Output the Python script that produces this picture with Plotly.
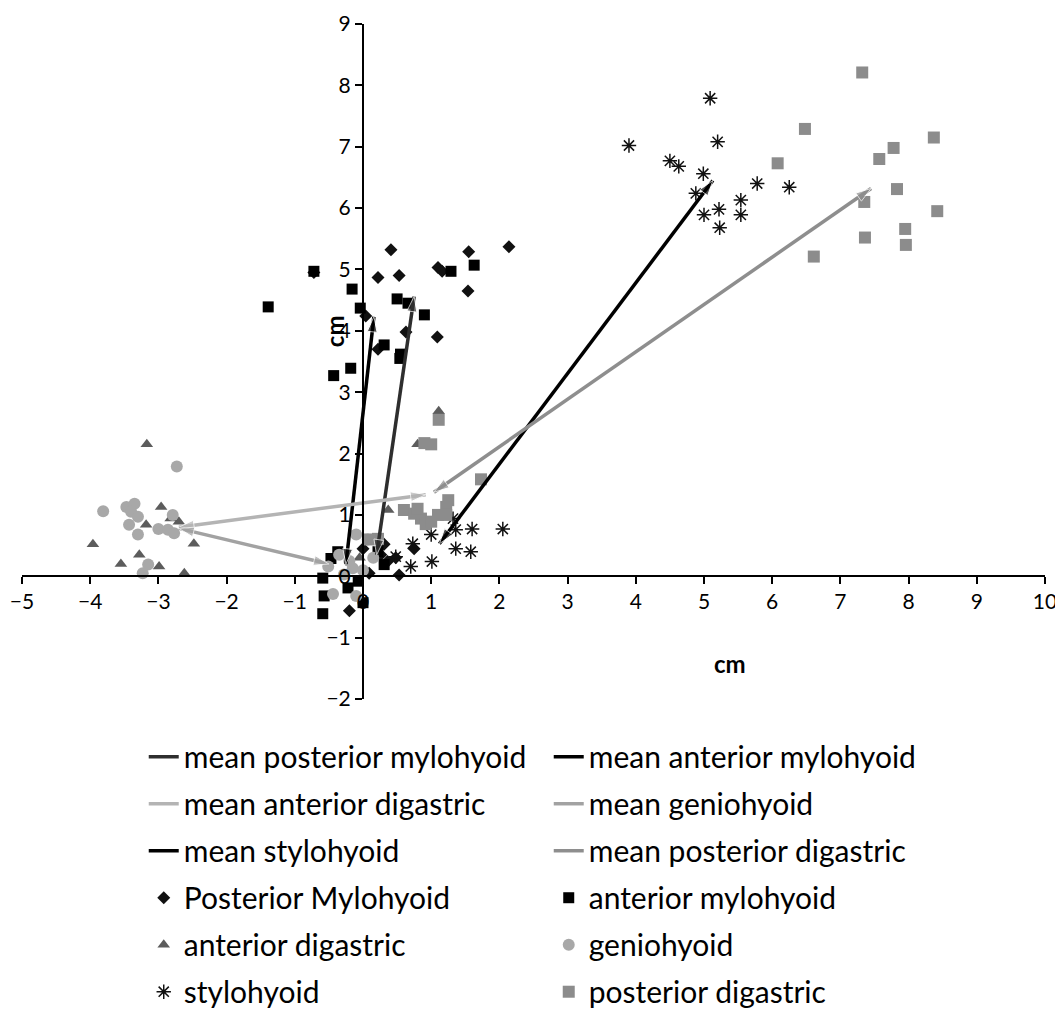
import plotly.graph_objects as go

# ---------------- data ----------------
pm_x = [-0.72, 0.04, 0.22, 0.22, 0.41, 0.53, 0.63, 1.09, 1.10, 1.16, 1.54, 1.55, 2.14, 0.00, 0.31, 0.26, 0.36, 0.53, 0.75, -0.20, 0.09, 0.48]
pm_y = [4.95, 4.24, 3.70, 4.87, 5.32, 4.90, 3.98, 3.90, 5.03, 4.97, 4.65, 5.29, 5.37, 0.45, 0.52, 0.35, 0.24, 0.02, 0.45, -0.56, 0.05, 0.30]

am_x = [-1.39, -0.72, -0.16, -0.04, 0.50, 0.66, 0.90, 0.31, 0.54, -0.18, -0.43, 1.29, 1.63, 0.55, -0.37, -0.47, -0.59, -0.57, -0.59, -0.22, -0.07, 0.00, 0.22, 0.31]
am_y = [4.39, 4.97, 4.68, 4.37, 4.52, 4.45, 4.26, 3.77, 3.55, 3.39, 3.27, 4.97, 5.07, 3.62, 0.40, 0.29, -0.03, -0.32, -0.61, -0.19, -0.08, -0.43, 0.40, 0.19]

ad_x = [-3.17, -2.96, -3.96, -3.28, -3.55, -2.99, -2.62, -2.48, -3.18, -2.70, -2.82, 1.11, 0.80, 0.37, -0.05]
ad_y = [2.15, 1.13, 0.52, 0.35, 0.20, 0.16, 0.05, 0.53, 0.84, 0.89, 0.94, 2.69, 2.15, 1.08, 0.30]

gh_x = [-2.73, -3.81, -3.47, -3.35, -3.40, -3.30, -3.43, -2.79, -3.00, -2.86, -2.77, -3.30, -3.15, -3.23, -0.10, -0.51, -0.44, -0.15, -0.28, -0.10, 0.07, -0.20, 0.00, 0.15, -0.35]
gh_y = [1.79, 1.06, 1.13, 1.18, 1.05, 0.97, 0.84, 1.00, 0.77, 0.76, 0.70, 0.68, 0.19, 0.05, 0.68, 0.16, -0.29, 0.13, 0.03, -0.32, 0.60, 0.25, 0.10, 0.30, 0.35]

sh_x = [5.09, 3.90, 4.50, 4.63, 5.20, 4.99, 4.88, 5.78, 6.25, 5.54, 5.54, 5.22, 5.00, 5.23, 1.36, 1.60, 2.05, 1.36, 1.58, 1.01, 0.73, 0.70, 0.48, 1.00, 1.32]
sh_y = [7.79, 7.02, 6.77, 6.68, 7.08, 6.56, 6.24, 6.40, 6.34, 6.13, 5.89, 5.98, 5.89, 5.68, 0.76, 0.77, 0.77, 0.45, 0.40, 0.24, 0.53, 0.16, 0.32, 0.68, 0.94]

pd_x = [7.32, 6.48, 6.08, 7.78, 7.57, 8.37, 7.83, 7.35, 8.42, 7.95, 7.96, 7.36, 6.61, 1.73, 1.11, 1.00, 0.90, 0.60, 0.75, 0.85, 0.92, 1.00, 1.22, 1.22, 1.10, 0.80, 1.25, 0.22, 0.09]
pd_y = [8.21, 7.29, 6.73, 6.98, 6.80, 7.15, 6.31, 6.10, 5.95, 5.66, 5.40, 5.52, 5.21, 1.58, 2.55, 2.15, 2.17, 1.08, 1.02, 0.94, 0.85, 0.89, 1.13, 1.00, 1.00, 1.10, 1.24, 0.61, 0.60]

# mean vectors (start -> end)
mean_names = ["mean posterior mylohyoid", "mean anterior mylohyoid", "mean anterior digastric",
              "mean geniohyoid", "mean stylohyoid", "mean posterior digastric"]
mean_x0 = [0.20, -0.25, -2.70, -2.70, 1.12, 1.04]
mean_y0 = [0.35, 0.20, 0.80, 0.78, 0.53, 1.37]
mean_x1 = [0.75, 0.16, 0.92, -0.50, 5.13, 7.45]
mean_y1 = [4.56, 4.23, 1.33, 0.20, 6.45, 6.32]
mean_colors = ["#2e2e2e", "#000000", "#b4b4b4", "#a2a2a2", "#000000", "#8e8e8e"]

# ---------------- figure ----------------
fig = go.Figure()

point_series = [
    ("Posterior Mylohyoid", pm_x, pm_y, "diamond", "#111111", 10, 7),
    ("anterior mylohyoid", am_x, am_y, "square", "#000000", 11, 8),
    ("anterior digastric", ad_x, ad_y, "triangle-up", "#5c5c5c", 11, 9),
    ("geniohyoid", gh_x, gh_y, "circle", "#a8a8a8", 12, 10),
    ("stylohyoid", sh_x, sh_y, "asterisk-open", "#111111", 12, 11),
    ("posterior digastric", pd_x, pd_y, "square", "#8c8c8c", 12, 12),
]
for name, xs, ys, sym, col, size, rank in point_series:
    mk = dict(symbol=sym, color=col, size=size)
    if sym == "asterisk-open":
        mk["line"] = dict(color=col, width=1.5)
    fig.add_trace(go.Scatter(x=xs, y=ys, mode="markers", name=name, marker=mk,
                             legendrank=rank, legendgroup="g%d" % rank))

for i, name in enumerate(mean_names):
    fig.add_trace(go.Scatter(x=[mean_x0[i], mean_x1[i]], y=[mean_y0[i], mean_y1[i]],
                             mode="lines", name=name, legendrank=i + 1,
                             legendgroup="g%d" % (i + 1),
                             line=dict(color=mean_colors[i], width=3.5)))
    fig.add_trace(go.Scatter(x=[mean_x1[i], mean_x0[i], mean_x1[i]],
                             y=[mean_y1[i], mean_y0[i], mean_y1[i]],
                             mode="markers", showlegend=False, hoverinfo="skip",
                             legendgroup="g%d" % (i + 1),
                             marker=dict(symbol="arrow", angleref="previous",
                                         size=[0, 16, 16], color=mean_colors[i])))

axis_font = dict(family="Lato, Calibri, sans-serif", size=21, color="#000")
fig.update_xaxes(range=[-5, 10], dtick=1, tick0=0, showgrid=False, zeroline=False,
                 showline=True, linecolor="#000", linewidth=2, ticks="outside",
                 ticklen=7, tickwidth=2, tickcolor="#000", tickfont=axis_font,
                 anchor="free", position=2 / 11, automargin=False,
                 ticklabeloverflow="allow")
fig.update_yaxes(range=[-2, 9], dtick=1, tick0=0, showgrid=False, zeroline=False,
                 showline=True, linecolor="#000", linewidth=2, ticks="outside",
                 ticklen=7, tickwidth=2, tickcolor="#000", tickfont=axis_font,
                 anchor="free", position=1 / 3, automargin=False,
                 ticklabeloverflow="allow")

title_font = dict(family="Lato, Calibri, sans-serif", size=24, color="#000")
fig.add_annotation(text="<b>cm</b>", xref="paper", yref="paper", x=0.692, y=0.053,
                   xanchor="center", yanchor="middle", showarrow=False, font=title_font)
fig.add_annotation(text="<b>cm</b>", xref="paper", yref="paper", x=0.305, y=0.545,
                   xanchor="center", yanchor="middle", textangle=-90, showarrow=False,
                   font=title_font)

fig.update_layout(
    width=1055, height=1001,
    margin=dict(l=14, r=18, t=16, b=310, autoexpand=False),
    plot_bgcolor="white", paper_bgcolor="white",
    font=dict(family="Lato, Calibri, sans-serif", color="#000"),
    legend=dict(orientation="h", x=0.119, xanchor="left", y=-0.047, yanchor="top",
                entrywidth=360, itemwidth=30, tracegroupgap=5,
                font=dict(family="Lato, Calibri, sans-serif", size=30, color="#000"),
                traceorder="grouped"),
)

fig.write_html("out.html")
